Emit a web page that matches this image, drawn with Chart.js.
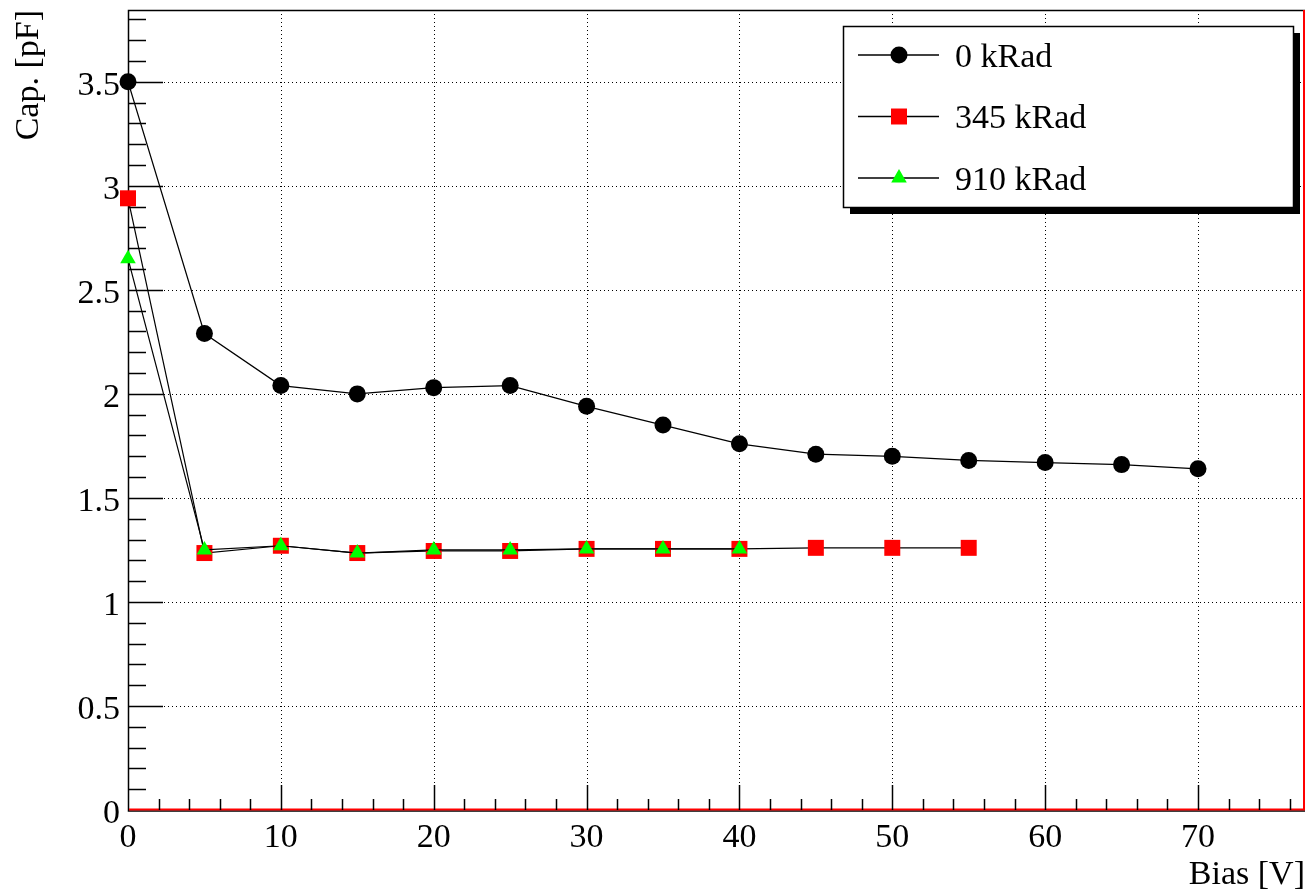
<!DOCTYPE html>
<html>
<head>
<meta charset="utf-8">
<title>Cap. vs Bias</title>
<script src="https://cdn.jsdelivr.net/npm/chart.js@4.4.1/dist/chart.umd.min.js"></script>
<style>
  html, body { margin: 0; padding: 0; background: #fff; }
  canvas { display: block; }
</style>
</head>
<body>
<canvas id="grafico" width="1309" height="895"></canvas>
<script>
// bias voltages (V) for each irradiation dose
const bias0 = [0, 5, 10, 15, 20, 25, 30, 35, 40, 45, 50, 55, 60, 65, 70];
const bias345 = [0, 5, 10, 15, 20, 25, 30, 35, 40, 45, 50, 55];
const bias910 = [0, 5, 10, 15, 20, 25, 30, 35, 40];

// capacitance (pF)
const cap0 = [3.50, 2.29, 2.04, 2.00, 2.03, 2.04, 1.94, 1.85, 1.76, 1.71, 1.70, 1.68, 1.67, 1.66, 1.64];
const cap345 = [2.94, 1.235, 1.27, 1.235, 1.245, 1.245, 1.255, 1.255, 1.255, 1.26, 1.26, 1.26];
const cap910 = [2.65, 1.25, 1.27, 1.235, 1.25, 1.25, 1.255, 1.255, 1.255];

const legendas = ['0 kRad', '345 kRad', '910 kRad'];

// tick labels
const xTicks = [0, 10, 20, 30, 40, 50, 60, 70];
const yTicks = [0, 0.5, 1, 1.5, 2, 2.5, 3, 3.5];
const xLabels = ['0', '10', '20', '30', '40', '50', '60', '70'];
const yLabels = ['0', '0.5', '1', '1.5', '2', '2.5', '3', '3.5'];

const pontos = (xs, ys) => xs.map((x, i) => ({x: x, y: ys[i]}));

Chart.defaults.font.family = "'Liberation Serif', 'Times New Roman', serif";
Chart.defaults.font.size = 34;
Chart.defaults.color = '#000';

// grid, frame and inward ticks, drawn from the scales
const moldura = {
  id: 'moldura',
  beforeDatasetsDraw(chart) {
    const {ctx, chartArea: a, scales: {x, y}} = chart;
    ctx.save();
    // dotted grid
    ctx.strokeStyle = '#000';
    ctx.lineWidth = 1;
    ctx.setLineDash([1, 3]);
    xTicks.forEach(v => {
      if (v === 0) return;
      const px = Math.round(x.getPixelForValue(v)) + 0.5;
      ctx.beginPath(); ctx.moveTo(px, a.top); ctx.lineTo(px, a.bottom); ctx.stroke();
    });
    yTicks.forEach(v => {
      if (v === 0) return;
      const py = Math.round(y.getPixelForValue(v)) + 0.5;
      ctx.beginPath(); ctx.moveTo(a.left, py); ctx.lineTo(a.right, py); ctx.stroke();
    });
    ctx.setLineDash([]);

    // frame
    ctx.strokeStyle = '#000';
    ctx.lineWidth = 1.5;
    ctx.beginPath();
    ctx.moveTo(a.right, a.top + 0.5); ctx.lineTo(a.left + 0.5, a.top + 0.5); ctx.lineTo(a.left + 0.5, a.bottom + 1);
    ctx.lineTo(a.right, a.bottom + 1);
    ctx.stroke();
    ctx.strokeStyle = '#ff0000';
    ctx.lineWidth = 2;
    ctx.beginPath();
    ctx.moveTo(a.left + 1, a.bottom - 0.5); ctx.lineTo(a.right - 1, a.bottom - 0.5); ctx.lineTo(a.right - 1, a.top);
    ctx.stroke();

    // ticks pointing inwards
    ctx.strokeStyle = '#000';
    ctx.lineWidth = 1.5;
    const dx = 2, dy = 0.1;
    for (let v = dx; v < x.max; v += dx) {
      const px = Math.round(x.getPixelForValue(v)) + 0.5;
      const len = (Math.round(v) % 10 === 0) ? 25 : 11;
      ctx.beginPath(); ctx.moveTo(px, a.bottom); ctx.lineTo(px, a.bottom - len); ctx.stroke();
    }
    for (let k = 1; k * dy < y.max; k++) {
      const py = Math.round(y.getPixelForValue(k * dy)) + 0.5;
      const len = (k % 5 === 0) ? 35 : 18;
      ctx.beginPath(); ctx.moveTo(a.left, py); ctx.lineTo(a.left + len, py); ctx.stroke();
    }
    ctx.restore();
  }
};

function marcador(ctx, estilo, cor, r, px, py) {
  ctx.fillStyle = cor;
  ctx.beginPath();
  if (estilo === 'circle') {
    ctx.arc(px, py, r, 0, Math.PI * 2);
  } else if (estilo === 'rect') {
    const s = r * Math.SQRT1_2;
    ctx.rect(px - s, py - s, 2 * s, 2 * s);
  } else {
    ctx.moveTo(px, py - r);
    ctx.lineTo(px + r * 0.866, py + r * 0.5);
    ctx.lineTo(px - r * 0.866, py + r * 0.5);
    ctx.closePath();
  }
  ctx.fill();
}

// ROOT style legend box with shadow
const caixaLegenda = {
  id: 'caixaLegenda',
  afterDraw(chart) {
    const ctx = chart.ctx;
    const bx = 843, by = 26, bw = 450, bh = 181;
    ctx.save();
    ctx.fillStyle = '#000';
    ctx.fillRect(bx + 7, by + 7, bw, bh);
    ctx.fillStyle = '#fff';
    ctx.fillRect(bx, by, bw, bh);
    ctx.strokeStyle = '#000';
    ctx.lineWidth = 1.5;
    ctx.strokeRect(bx + 0.5, by + 0.5, bw, bh);
    chart.data.datasets.forEach((ds, i) => {
      const ly = 55 + i * 61.5;
      ctx.strokeStyle = '#000';
      ctx.lineWidth = 1.5;
      ctx.beginPath(); ctx.moveTo(858, ly); ctx.lineTo(939, ly); ctx.stroke();
      marcador(ctx, ds.pointStyle, ds.pointBackgroundColor, ds.pointRadius, 899, ly);
      ctx.fillStyle = '#000';
      ctx.font = "34px 'Liberation Serif', 'Times New Roman', serif";
      ctx.textBaseline = 'middle';
      ctx.textAlign = 'left';
      ctx.fillText(ds.label, 955, ly + 3);
    });
    ctx.restore();
  }
};

const serie = (label, dados, estilo, cor, r, ordem) => ({
  label: label,
  data: dados,
  borderColor: '#000',
  borderWidth: 1.2,
  pointStyle: estilo,
  pointRadius: r,
  pointHoverRadius: r,
  pointBackgroundColor: cor,
  pointBorderColor: cor,
  pointBorderWidth: 0,
  backgroundColor: cor,
  fill: false,
  tension: 0,
  clip: false,
  order: ordem
});

new Chart(document.getElementById('grafico').getContext('2d'), {
  type: 'line',
  data: {
    datasets: [
      serie(legendas[0], pontos(bias0, cap0), 'circle', '#000000', 8.5, 2),
      serie(legendas[1], pontos(bias345, cap345), 'rect', '#ff0000', 11.3, 1),
      serie(legendas[2], pontos(bias910, cap910), 'triangle', '#00ff00', 9, 0)
    ]
  },
  options: {
    responsive: false,
    animation: false,
    layout: { autoPadding: false, padding: { top: 10, right: 4, left: 0, bottom: 0 } },
    plugins: {
      legend: { display: false },
      tooltip: { enabled: false }
    },
    scales: {
      x: {
        type: 'linear',
        min: 0,
        max: 77,
        grid: { display: false, drawTicks: false },
        border: { display: false },
        ticks: {
          stepSize: 10,
          includeBounds: false,
          maxRotation: 0,
          autoSkip: false,
          padding: 8,
          callback: v => { const i = xTicks.indexOf(v); return i >= 0 ? xLabels[i] : ''; }
        },
        title: { display: true, text: 'Bias [V]', align: 'end', padding: { top: 0, bottom: 0 } },
        afterFit: s => { s.height = 85; s.paddingLeft = 0; s.paddingRight = 0; }
      },
      y: {
        type: 'linear',
        min: 0,
        max: 3.845,
        grid: { display: false, drawTicks: false },
        border: { display: false },
        ticks: {
          stepSize: 0.5,
          includeBounds: false,
          padding: 8,
          labelOffset: 4,
          callback: v => { const i = yTicks.indexOf(v); return i >= 0 ? yLabels[i] : ''; }
        },
        title: { display: true, text: 'Cap. [pF]', align: 'end', padding: { top: 9, bottom: 0 } },
        afterFit: s => { s.width = 128; s.paddingTop = 0; s.paddingBottom = 0; }
      }
    }
  },
  plugins: [moldura, caixaLegenda]
});
</script>
</body>
</html>
